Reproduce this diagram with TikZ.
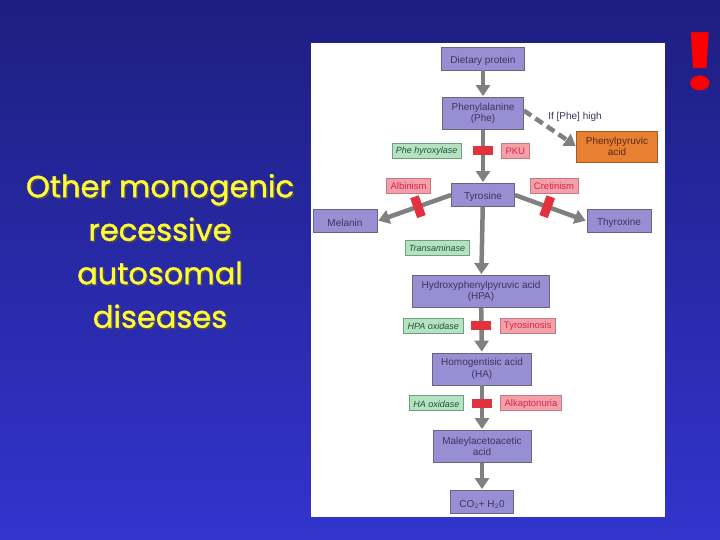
\documentclass[tikz,border=0pt]{standalone}
\usepackage{fontspec}
\setmainfont{Liberation Sans}
\newfontfamily\titlefont{Poppins}[FakeBold=1.2]
\newfontfamily\bangfont{Fira Sans}
\usetikzlibrary{arrows.meta,positioning}

\definecolor{bgtop}{RGB}{30,30,128}
\definecolor{bgbot}{RGB}{50,52,205}
\definecolor{boxfill}{RGB}{152,142,212}
\definecolor{boxline}{RGB}{105,100,130}
\definecolor{boxtext}{RGB}{62,52,92}
\definecolor{enzfill}{RGB}{182,226,196}
\definecolor{enzline}{RGB}{110,160,125}
\definecolor{enztext}{RGB}{30,85,50}
\definecolor{disfill}{RGB}{244,160,168}
\definecolor{disline}{RGB}{200,120,130}
\definecolor{distext}{RGB}{215,35,80}
\definecolor{blockred}{RGB}{225,50,62}
\definecolor{ppafill}{RGB}{232,128,50}
\definecolor{ppatext}{RGB}{90,40,20}
\definecolor{flowgrey}{RGB}{128,128,128}
\definecolor{titleyel}{RGB}{255,250,60}

\tikzset{
  mol/.style={draw=boxline, fill=boxfill, text=boxtext, line width=0.8pt,
    font=\fontsize{10}{11.5}\selectfont, align=center, inner xsep=9pt,
    inner ysep=3pt, minimum height=23pt,
    execute at begin node={\rule{0pt}{12pt}}},
  mol2/.style={mol, minimum height=32pt},
  enz/.style={draw=enzline, fill=enzfill, text=enztext, line width=0.6pt,
    font=\fontsize{9}{11}\selectfont\itshape, inner xsep=4pt,
    inner ysep=0pt, minimum height=15pt,
    execute at begin node={\rule{0pt}{8.5pt}}},
  dis/.style={draw=disline, fill=disfill, text=distext, line width=0.6pt,
    font=\fontsize{9.5}{11}\selectfont, inner xsep=4pt,
    inner ysep=0pt, minimum height=15pt,
    execute at begin node={\rule{0pt}{8.5pt}}},
  block/.style={fill=blockred, inner sep=0pt, minimum width=20pt,
    minimum height=9pt},
  blockv/.style={block, minimum width=9pt, minimum height=21pt, sloped},
  flow/.style={draw=flowgrey, line width=4.5pt,
    -{Triangle[length=11pt,width=14pt]}, shorten >=1pt},
  maybe/.style={flow, dash pattern=on 9pt off 5pt},
  heading/.style={text=titleyel,
    font=\titlefont\fontsize{30.5}{43.5}\selectfont, align=center},
}

\begin{document}
\begin{tikzpicture}[x=1pt,y=-1pt]
  % slide background and figure panel
  \shade[top color=bgtop, bottom color=bgbot] (0,0) rectangle (720,540);
  \useasboundingbox (0,0) rectangle (720,540);
  \fill[white] (311,43) rectangle (665,517);

  % title on the left, with its shadow
  \node[heading, text=black!70] at (161.5,252.5)
    {Other monogenic\\recessive\\autosomal\\diseases};
  \node[heading] (title) at (160,251)
    {Other monogenic\\recessive\\autosomal\\diseases};
  \node[text=red, xscale=1.3,
    font=\bangfont\bfseries\fontsize{82}{82}\selectfont]
    (bang) at (700,62) {!};

  % pathway
  \node[mol, minimum width=80pt] (diet) at (483,58.5) {Dietary protein};
  \node[mol2, minimum width=80pt] (phe) at (483,113.5) {Phenylalanine\\(Phe)};
  \node[mol, minimum width=63pt] (tyr) at (483,195) {Tyrosine};
  \node[mol, minimum width=64pt] (mel) at (345,221) {Melanin};
  \node[mol, minimum width=64pt] (thy) at (619,221) {Thyroxine};
  \node[mol2] (hpa) at (481,291.5) {Hydroxyphenylpyruvic acid\\(HPA)};
  \node[mol2, minimum width=98pt] (ha) at (482,369) {Homogentisic acid\\(HA)};
  \node[mol2, minimum width=98pt] (maa) at (482,446.5)
    {Maleylacetoacetic\\acid};
  \node[mol, minimum width=61pt] (co2) at (482,502) {CO$_2$+ H$_2$0};
  \node[mol2, fill=ppafill, draw=ppafill!70!black, text=ppatext,
    minimum width=75pt, minimum height=31pt] (ppa) at (617,146.5)
    {Phenylpyruvic\\acid};
  \node[font=\fontsize{10}{11}\selectfont, text=boxtext] (high)
    at (575,117) {If [Phe] high};

  \draw[flow] (diet) -- (phe);
  \draw[flow] (phe) -- node[block, pos=0.39] (b1) {} (tyr);
  \draw[maybe] ([yshift=3pt]phe.east) -- (ppa.west);
  \draw[flow] (tyr.west) -- node[blockv, pos=0.45] (b2) {} (mel.east);
  \draw[flow] (tyr.east) -- node[blockv, pos=0.45] (b3) {} (thy.west);
  \draw[flow] (tyr) -- (hpa);
  \draw[flow] (hpa) -- node[block, pos=0.39] (b4) {} (ha);
  \draw[flow] (ha) -- node[block, pos=0.4] (b5) {} (maa);
  \draw[flow] (maa) -- (co2);

  % enzymes and diseases
  \node[enz, left=9pt of b1] (pah) {Phe hyroxylase};
  \node[dis, right=6pt of b1] (pku) {PKU};
  \node[dis] (alb) at (408.5,185.5) {Albinism};
  \node[dis] (cre) at (554,185.5) {Cretinism};
  \node[enz] (tat) at (437,247.5) {Transaminase};
  \node[enz, left=6pt of b4] (hpd) {HPA oxidase};
  \node[dis, right=6pt of b4] (tyro) {Tyrosinosis};
  \node[enz, left=6pt of b5] (hgd) {HA oxidase};
  \node[dis, right=6pt of b5] (alk) {Alkaptonuria};
\end{tikzpicture}
\end{document}
